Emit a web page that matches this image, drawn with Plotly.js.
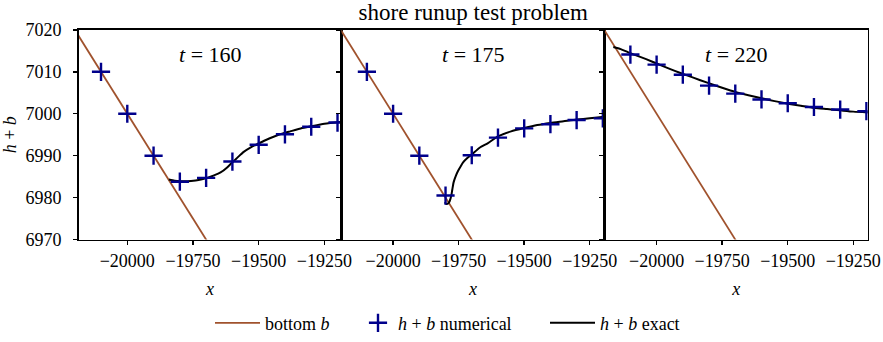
<!DOCTYPE html>
<html>
<head>
<meta charset="utf-8">
<script src="https://cdn.plot.ly/plotly-3.0.1.min.js"></script>
<style>
  html, body { margin: 0; padding: 0; background: #fff; }
  #chart { width: 883px; height: 342px; }
</style>
</head>
<body>
<div id="chart"></div>
<script>
// bottom topography b(x), a straight slope
const bottomX = [-20300, -19200];
const bottomY = [7030, 6920];

// numerical h + b, sampled every 100 m
const numX = [-20100, -20000, -19900, -19800, -19700, -19600, -19500, -19400, -19300, -19200];
const num160 = [7010, 7000, 6990, 6983.8, 6984.7, 6988.6, 6992.6, 6995.1, 6996.9, 6997.9];
const num175 = [7010, 7000, 6990, 6980.5, 6990.1, 6994.3, 6996.5, 6997.5, 6998.5, 6998.9];
const num220 = [7014.1, 7011.7, 7009.3, 7006.7, 7004.8, 7003.4, 7002.5, 7001.6, 7001.0, 7000.6];

// exact h + b, from the shoreline onwards
const exact160X = [-19842, -19820, -19797, -19770, -19740, -19720, -19696, -19670, -19645, -19620, -19601, -19580, -19557, -19530, -19500, -19460, -19424, -19380, -19340, -19300, -19250, -19185];
const exact160Y = [6984.3, 6984.0, 6983.9, 6983.9, 6984.1, 6984.3, 6984.7, 6985.3, 6986.0, 6987.2, 6988.4, 6989.6, 6990.9, 6992.0, 6992.9, 6994.1, 6995.0, 6995.8, 6996.5, 6997.0, 6997.6, 6998.1];

const exact175X = [-19803, -19797, -19790, -19784, -19778, -19774, -19769, -19760, -19752, -19742, -19733, -19718, -19701, -19670, -19638, -19600, -19550, -19500, -19450, -19400, -19350, -19300, -19250, -19193];
const exact175Y = [6978.9, 6978.5, 6978.6, 6979.2, 6980.5, 6982.0, 6983.7, 6985.3, 6986.4, 6987.5, 6988.4, 6989.4, 6990.2, 6991.9, 6993.0, 6994.6, 6995.8, 6996.6, 6997.3, 6997.8, 6998.2, 6998.6, 6998.9, 6999.3];

const exact220X = [-20165, -20137, -20110, -20086, -20040, -19997, -19950, -19909, -19860, -19807, -19750, -19700, -19650, -19600, -19550, -19500, -19450, -19400, -19350, -19300, -19250, -19195];
const exact220Y = [7015.9, 7015.4, 7014.7, 7014.1, 7013.0, 7011.9, 7010.7, 7009.7, 7008.6, 7007.4, 7006.2, 7005.2, 7004.4, 7003.7, 7003.0, 7002.4, 7001.9, 7001.4, 7001.1, 7000.8, 7000.5, 7000.3];

const times = ['160', '175', '220'];
const xRanges = [[-20185, -19185], [-20197, -19193], [-20198, -19195]];
const yRange = [6970, 7020];

const brown = '#a0522d';
const navy = '#00008b';
const serif = 'Liberation Serif';

const numSets = [num160, num175, num220];
const exactSets = [[exact160X, exact160Y], [exact175X, exact175Y], [exact220X, exact220Y]];

const traces = [];
for (let i = 0; i < 3; i++) {
    const xa = i === 0 ? 'x' : 'x' + (i + 1);
    const ya = i === 0 ? 'y' : 'y' + (i + 1);
    traces.push({
        x: bottomX, y: bottomY, xaxis: xa, yaxis: ya,
        type: 'scatter', mode: 'lines', name: 'bottom <i>b</i>',
        line: { color: brown, width: 1.8 },
        showlegend: i === 0, legend: 'legend'
    });
    traces.push({
        x: exactSets[i][0], y: exactSets[i][1], xaxis: xa, yaxis: ya,
        type: 'scatter', mode: 'lines', name: '<i>h</i> + <i>b</i> exact',
        line: { color: 'black', width: 2, shape: 'spline', smoothing: 0.6 },
        showlegend: i === 0, legend: 'legend3'
    });
    traces.push({
        x: numX, y: numSets[i], xaxis: xa, yaxis: ya,
        type: 'scatter', mode: 'markers', name: '<i>h</i> + <i>b</i> numerical',
        marker: { symbol: 'cross-thin-open', size: 13, color: navy, line: { color: navy, width: 2.4 } },
        showlegend: i === 0, legend: 'legend2'
    });
}

const domains = [[0.0891, 0.3867], [0.3867, 0.6848], [0.6848, 0.9827]];
const yDomain = [0.2953, 0.9123];

const legendFont = { family: serif, size: 18, color: 'black' };

const layout = {
    width: 883, height: 342,
    margin: { l: 0, r: 0, t: 0, b: 0, pad: 0 },
    paper_bgcolor: 'white', plot_bgcolor: 'white',
    font: { family: serif, size: 18, color: 'black' },
    title: {
        text: 'shore runup test problem',
        x: 0.536, xanchor: 'center', y: 0.965, yanchor: 'middle',
        font: { family: serif, size: 23, color: 'black' }
    },
    annotations: [],
    legend: {
        orientation: 'h', x: 210 / 883, xanchor: 'left', y: 17 / 342, yanchor: 'middle',
        bgcolor: 'rgba(0,0,0,0)', borderwidth: 0, itemwidth: 45, font: legendFont
    },
    legend2: {
        orientation: 'h', x: 358 / 883, xanchor: 'left', y: 17 / 342, yanchor: 'middle',
        bgcolor: 'rgba(0,0,0,0)', borderwidth: 0, itemwidth: 30, font: legendFont
    },
    legend3: {
        orientation: 'h', x: 545 / 883, xanchor: 'left', y: 17 / 342, yanchor: 'middle',
        bgcolor: 'rgba(0,0,0,0)', borderwidth: 0, itemwidth: 45, font: legendFont
    }
};

for (let i = 0; i < 3; i++) {
    const n = i === 0 ? '' : String(i + 1);
    const xa = 'x' + n, ya = 'y' + n;
    layout['xaxis' + n] = {
        domain: domains[i], anchor: ya, range: xRanges[i], autorange: false,
        tick0: -20000, dtick: 250, tickformat: 'd', ticklabeloverflow: 'allow',
        ticks: 'outside', ticklen: 4, tickwidth: 1.5, tickcolor: 'black',
        showline: true, mirror: true, linecolor: 'black', linewidth: 1.5,
        showgrid: false, zeroline: false, ticklabelstandoff: 0,
        tickfont: { family: serif, size: 18, color: 'black' },
        title: { text: '<i>x</i>', standoff: 12, font: { family: serif, size: 18, color: 'black' } }
    };
    layout['yaxis' + n] = {
        domain: yDomain, anchor: xa, range: yRange, autorange: false,
        tick0: 6970, dtick: 10, tickformat: 'd',
        ticks: 'outside', ticklen: 4, tickwidth: 1.5, tickcolor: 'black',
        showline: true, mirror: true, linecolor: 'black', linewidth: 1.5,
        showgrid: false, zeroline: false, showticklabels: i === 0, ticklabelstandoff: 8,
        tickfont: { family: serif, size: 18, color: 'black' },
        title: i === 0 ? { text: '<i>h</i> + <i>b</i>', standoff: 6, font: { family: serif, size: 18, color: 'black' } } : undefined
    };
    // second set of axes only to draw the inner half of each tick
    layout['xaxis' + (i + 4)] = {
        overlaying: xa, anchor: ya, side: 'bottom', range: xRanges[i], autorange: false,
        tick0: -20000, dtick: 250, ticks: 'inside', ticklen: 4, tickwidth: 1.5, tickcolor: 'black',
        showticklabels: false, showline: false, showgrid: false, zeroline: false
    };
    layout['yaxis' + (i + 4)] = {
        overlaying: ya, anchor: xa, side: 'left', range: yRange, autorange: false,
        tick0: 6970, dtick: 10, ticks: 'inside', ticklen: 4, tickwidth: 1.5, tickcolor: 'black',
        showticklabels: false, showline: false, showgrid: false, zeroline: false
    };
    layout.annotations.push({
        xref: xa + ' domain', yref: ya + ' domain', x: 0.5, y: 0.88,
        xanchor: 'center', yanchor: 'middle', showarrow: false,
        text: '<i>t</i> = ' + times[i],
        font: { family: serif, size: 22, color: 'black' }
    });
}

Plotly.newPlot('chart', traces, layout, { staticPlot: true });
</script>
</body>
</html>
